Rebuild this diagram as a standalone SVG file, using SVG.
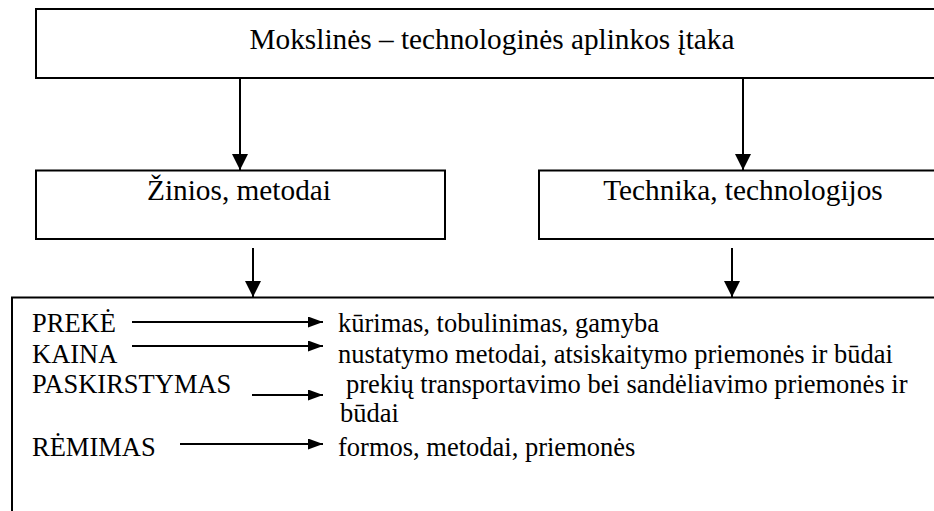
<svg xmlns="http://www.w3.org/2000/svg" width="934" height="511" viewBox="0 0 934 511">
  <style>
    .box { fill: #ffffff; stroke: #000000; stroke-width: 2; }
    .title { font-family: 'Liberation Serif', 'Times New Roman', Times, 'DejaVu Serif', serif; font-size: 29.3px; fill: #000000; text-anchor: middle; }
    .body { font-family: 'Liberation Serif', 'Times New Roman', Times, 'DejaVu Serif', serif; font-size: 26.5px; fill: #000000; }
    .conn { stroke: #000000; stroke-width: 2; fill: none; }
  </style>
  <defs>
    <marker id="ahV" markerUnits="userSpaceOnUse" markerWidth="16" markerHeight="16" refX="16" refY="8" orient="auto">
      <path d="M0,0 L16,8 L0,16 Z" fill="#000000"/>
    </marker>
    <marker id="ahH" markerUnits="userSpaceOnUse" markerWidth="15" markerHeight="11" refX="15" refY="5.5" orient="auto">
      <path d="M0,0 L15,5.5 L0,11 Z" fill="#000000"/>
    </marker>
  </defs>
  <rect x="0" y="0" width="934" height="511" fill="#ffffff"/>

  <g id="node-aplinka">
    <rect class="box" x="36" y="9" width="920" height="69"/>
    <text class="title" x="492" y="48.5" font-family="Liberation Serif, serif">Mokslinės – technologinės aplinkos įtaka</text>
  </g>

  <g id="node-zinios">
    <rect class="box" x="36" y="170.5" width="409" height="68.5"/>
    <text class="title" x="239" y="200">Žinios, metodai</text>
  </g>

  <g id="node-technika">
    <rect class="box" x="539" y="170.5" width="420" height="68.5"/>
    <text class="title" x="743" y="200">Technika, technologijos</text>
  </g>

  <g id="node-komplex">
    <rect class="box" x="12" y="297.5" width="940" height="240"/>
    <text class="body" x="32" y="332">PREKĖ</text>
    <text class="body" x="32" y="362.5">KAINA</text>
    <text class="body" x="32" y="393">PASKIRSTYMAS</text>
    <text class="body" x="32" y="456">RĖMIMAS</text>
    <text class="body" x="338" y="332">kūrimas, tobulinimas, gamyba</text>
    <text class="body" x="338" y="362.5">nustatymo metodai, atsiskaitymo priemonės ir būdai</text>
    <text class="body" x="346" y="393">prekių transportavimo bei sandėliavimo priemonės ir</text>
    <text class="body" x="340" y="421.5">būdai</text>
    <text class="body" x="338" y="456">formos, metodai, priemonės</text>
  </g>

  <g id="connectors">
    <line class="conn" x1="240" y1="78" x2="240" y2="170" marker-end="url(#ahV)"/>
    <line class="conn" x1="743" y1="78" x2="743" y2="170" marker-end="url(#ahV)"/>
    <line class="conn" x1="253" y1="248" x2="253" y2="297" marker-end="url(#ahV)"/>
    <line class="conn" x1="732" y1="248" x2="732" y2="297" marker-end="url(#ahV)"/>
    <line class="conn" x1="132" y1="322" x2="323" y2="322" marker-end="url(#ahH)"/>
    <line class="conn" x1="132" y1="346" x2="323" y2="346" marker-end="url(#ahH)"/>
    <line class="conn" x1="252" y1="395" x2="323" y2="395" marker-end="url(#ahH)"/>
    <line class="conn" x1="180" y1="444" x2="323" y2="444" marker-end="url(#ahH)"/>
  </g>
</svg>
